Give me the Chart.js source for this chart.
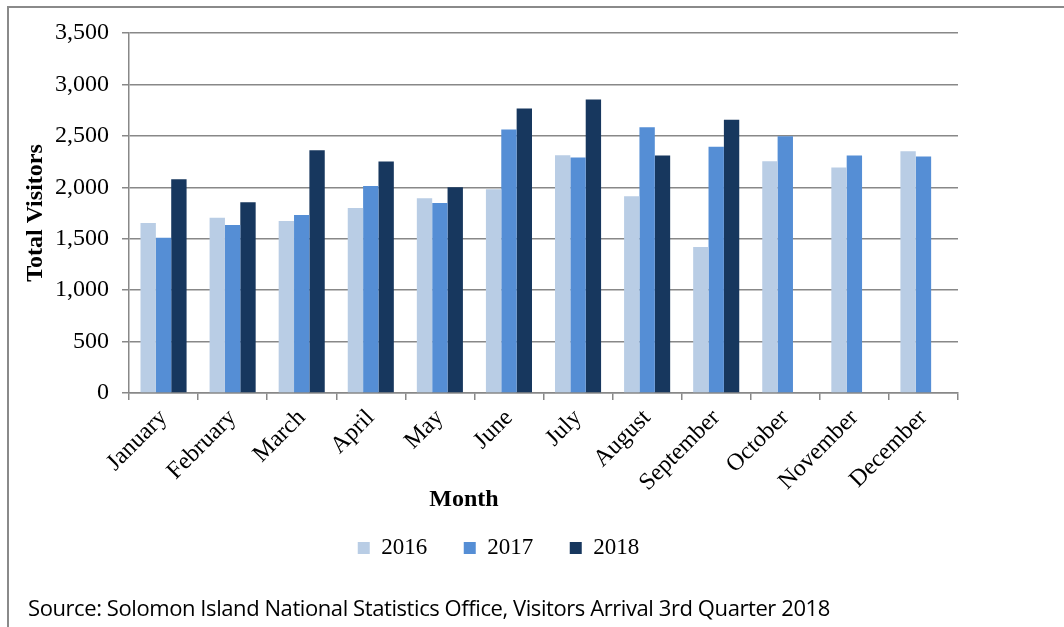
<!DOCTYPE html>
<html>
<head>
<meta charset="utf-8">
<script src="https://cdn.jsdelivr.net/npm/chart.js@4.4.1/dist/chart.umd.min.js"></script>
<style>
  html, body { margin: 0; padding: 0; background: #ffffff; overflow: hidden; }
  #wrap { position: relative; width: 1064px; height: 627px; }
  #frame { position: absolute; left: 7px; top: 6px; width: 1070px; height: 640px;
           border-top: 2px solid #8a8a8a; border-left: 2px solid #8a8a8a; box-sizing: border-box; }
  canvas { position: absolute; left: 0; top: 0; }
  #xtitle { position: absolute; left: 364px; width: 200px; top: 485px; text-align: center;
            font: bold 24px "Liberation Serif", "Times New Roman", serif; color: #000; }
  #source { position: absolute; left: 28px; top: 592px; white-space: nowrap; letter-spacing: -0.42px;
            font: 22px "Liberation Sans Narrow", "Open Sans", sans-serif; color: #000; }
</style>
</head>
<body>
<div id="wrap">
  <div id="frame"></div>
  <canvas id="c" width="1064" height="627"></canvas>
  <div id="xtitle">Month</div>
  <div id="source">Source: Solomon Island National Statistics Office, Visitors Arrival 3rd Quarter 2018</div>
</div>
<script>
const months = ["January", "February", "March", "April", "May", "June", "July", "August", "September", "October", "November", "December"];
const seriesNames = ["2016", "2017", "2018"];
const visitors2016 = [1653, 1705, 1672, 1799, 1893, 1981, 2312, 1913, 1420, 2254, 2192, 2351];
const visitors2017 = [1510, 1633, 1731, 2013, 1847, 2563, 2289, 2584, 2393, 2497, 2309, 2299];
const visitors2018 = [2078, 1854, 2359, 2250, 2000, 2767, 2853, 2309, 2656, null, null, null];
const yTicks = [0, 500, 1000, 1500, 2000, 2500, 3000, 3500];

const colors = ["#B9CDE5", "#558ED5", "#17375E"];
const gridColor = "#888888";
const serif = "'Liberation Serif', 'Times New Roman', serif";

new Chart(document.getElementById("c"), {
  type: "bar",
  data: {
    labels: months,
    datasets: [
      { label: seriesNames[0], data: visitors2016, backgroundColor: colors[0] },
      { label: seriesNames[1], data: visitors2017, backgroundColor: colors[1] },
      { label: seriesNames[2], data: visitors2018, backgroundColor: colors[2] }
    ]
  },
  options: {
    responsive: false,
    animation: false,
    devicePixelRatio: 1,
    layout: { padding: { left: 39, right: 106, top: 33, bottom: 57.5 } },
    datasets: { bar: { categoryPercentage: 0.667, barPercentage: 1.0 } },
    plugins: {
      tooltip: { enabled: false },
      legend: {
        position: "bottom",
        labels: {
          boxWidth: 12, boxHeight: 12, padding: 36.5,
          color: "#000", font: { family: serif, size: 23 }
        }
      }
    },
    scales: {
      x: {
        grid: { drawOnChartArea: false, drawTicks: true, tickLength: 7, color: gridColor, lineWidth: 1.5, offset: true },
        border: { color: gridColor, width: 1.5 },
        ticks: { autoSkip: false, minRotation: 45, maxRotation: 45, padding: 4, color: "#000",
                 font: { family: serif, size: 24 } },
        afterFit: (s) => { s.height = 107; }
      },
      y: {
        min: 0, max: 3500,
        afterBuildTicks: (s) => { s.ticks = yTicks.map(v => ({ value: v })); },
        grid: { color: gridColor, lineWidth: 1.5, tickLength: 7, drawTicks: true },
        border: { color: gridColor, width: 1.5 },
        ticks: { padding: 13, color: "#000", font: { family: serif, size: 24 },
                 callback: (v) => Number(v).toLocaleString("en-US") },
        title: { display: true, text: "Total Visitors", color: "#000",
                 font: { family: serif, size: 24, weight: "bold" }, padding: { top: -18, bottom: 0 } },
        afterFit: (s) => { s.width = 90; }
      }
    }
  }
});
</script>
</body>
</html>
